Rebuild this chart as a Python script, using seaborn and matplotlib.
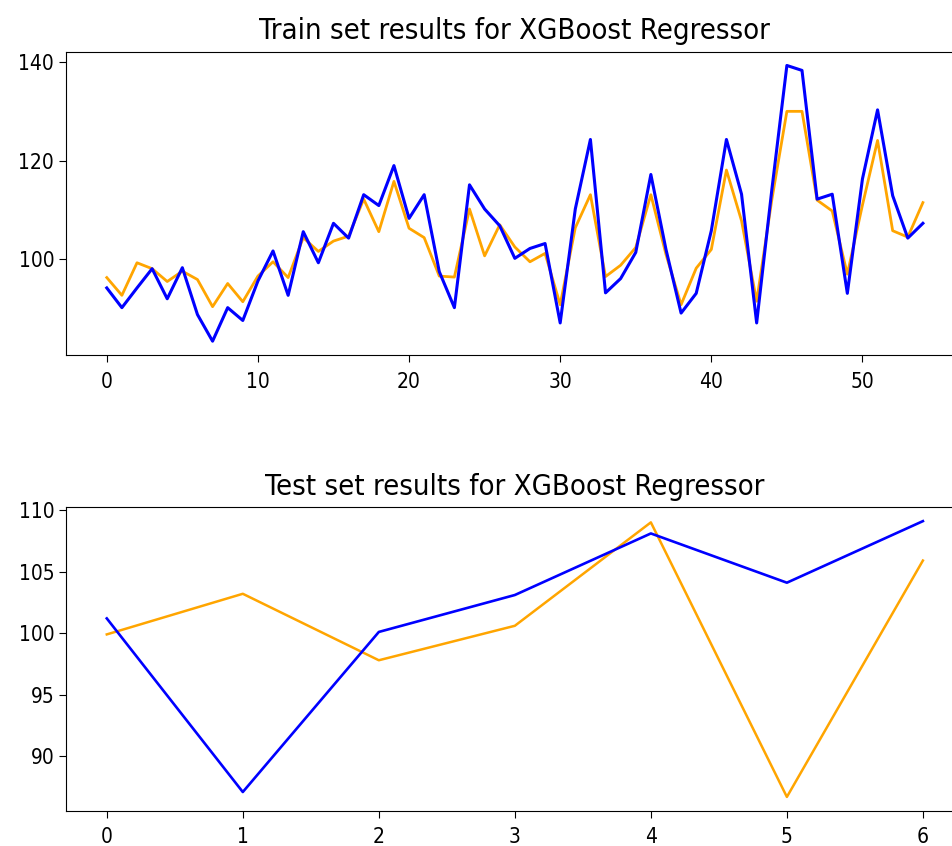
import numpy as np
import pandas as pd
import seaborn as sns
import matplotlib
matplotlib.use("Agg")
import matplotlib.pyplot as plt

# train set: actual vs predicted
train_pred = [96.3, 92.7, 99.3, 98.1, 95.5, 97.6, 95.9, 90.4, 95.1, 91.4,
              96.6, 99.5, 96.3, 104.4, 101.6, 103.7, 104.7, 112.2, 105.6, 115.8,
              106.3, 104.4, 96.6, 96.4, 110.2, 100.7, 107.0, 102.5, 99.5, 101.2,
              90.8, 106.4, 113.1, 96.5, 98.8, 102.4, 113.1, 101.0, 90.8, 98.2,
              102.0, 118.1, 107.8, 91.5, 112.0, 130.0, 130.0, 112.0, 109.8, 97.0,
              111.0, 124.1, 105.8, 104.5, 111.5]
train_true = [94.2, 90.2, 94.2, 98.1, 92.0, 98.3, 88.8, 83.4, 90.2, 87.6,
              95.6, 101.7, 92.7, 105.6, 99.3, 107.3, 104.3, 113.1, 110.9, 119.0,
              108.3, 113.1, 97.5, 90.2, 115.1, 110.2, 106.8, 100.2, 102.2, 103.2,
              87.1, 110.2, 124.3, 93.2, 96.1, 101.4, 117.2, 102.0, 89.1, 93.1,
              105.8, 124.3, 113.2, 87.1, 114.0, 139.3, 138.3, 112.2, 113.2, 93.1,
              116.3, 130.3, 112.9, 104.3, 107.3]
train_yticks = [100, 120, 140]

# test set
test_pred = [99.9, 103.2, 97.8, 100.6, 109.0, 86.7, 105.9]
test_true = [101.2, 87.1, 100.1, 103.1, 108.1, 104.1, 109.1]

plt.rcParams['font.stretch'] = 'condensed'

fig = plt.figure(figsize=(9.52, 8.46), dpi=100)
ax1 = fig.add_axes([0.0693, 0.5804, 0.943, 0.3585])
ax2 = fig.add_axes([0.0693, 0.0417, 0.943, 0.3586])

x_train = np.arange(len(train_true))
sns.lineplot(x=x_train, y=train_pred, color="orange", linewidth=2, ax=ax1)
sns.lineplot(x=x_train, y=train_true, color="blue", linewidth=2.2, ax=ax1)
ax1.set_yticks(train_yticks)
ax1.set_title("Train set results for XGBoost Regressor", fontsize=21, pad=9)

x_test = np.arange(len(test_true))
sns.lineplot(x=x_test, y=test_pred, color="orange", linewidth=1.8, ax=ax2)
sns.lineplot(x=x_test, y=test_true, color="blue", linewidth=1.9, ax=ax2)
ax2.set_title("Test set results for XGBoost Regressor", fontsize=21, pad=9)

for ax in (ax1, ax2):
    ax.tick_params(labelsize=15, length=5)
    ax.tick_params(axis='x', pad=7)

fig.savefig("out.png", dpi=100)
